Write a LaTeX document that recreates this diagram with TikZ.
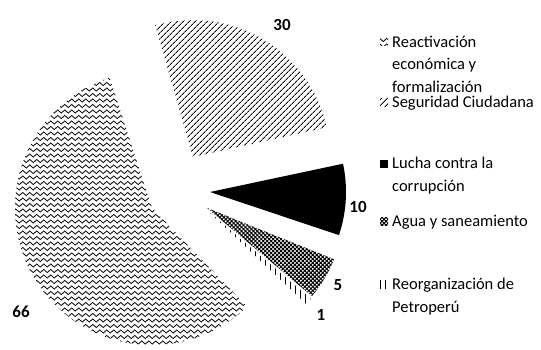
\documentclass[tikz,border=0pt]{standalone}
\usepackage{fontspec}
\setmainfont{Carlito}
\usetikzlibrary{patterns,patterns.meta}

\pgfdeclarepatternformonly{waves}{\pgfpoint{-1pt}{-1pt}}{\pgfpoint{8pt}{6pt}}{\pgfpoint{7pt}{5.5pt}}{%
  \pgfsetlinewidth{0.8pt}%
  \pgfpathmoveto{\pgfpoint{0pt}{2pt}}%
  \pgfpathcurveto{\pgfpoint{1.2pt}{4pt}}{\pgfpoint{2.3pt}{4pt}}{\pgfpoint{3.5pt}{2pt}}%
  \pgfpathcurveto{\pgfpoint{4.7pt}{0pt}}{\pgfpoint{5.8pt}{0pt}}{\pgfpoint{7pt}{2pt}}%
  \pgfusepathqstroke
}

\begin{document}
\begin{tikzpicture}[x=1pt,y=1pt,
    wavy/.style={pattern=waves},
    slash/.style={pattern={Lines[angle=45,distance=4pt,line width=1pt]}},
    cross/.style={pattern={Hatch[angle=45,distance=2.8pt,line width=1pt]}},
    bars/.style={pattern={Lines[angle=90,distance=5pt,line width=1pt]}},
    lbl/.style={font=\fontsize{17}{20}\selectfont\bfseries},
    legtext/.style={anchor=west,align=left,inner sep=0pt,font=\fontsize{16.5}{22.5}\selectfont},
    swatch/.style={minimum size=8pt,inner sep=0pt}]
\useasboundingbox (0,0) rectangle (541,350);
        \fill[wavy] (152,142) -- ++(108:137) arc[start angle=108,end angle=314,radius=137] -- cycle;
        \fill[slash] (193,193) -- ++(12.5:137) arc[start angle=12.5,end angle=106,radius=137] -- cycle;
        \fill[black] (210,158) -- ++(-18.5:136) arc[start angle=-18.5,end angle=12,radius=136] -- cycle;
        \fill[cross] (207,142) -- ++(-40:137) arc[start angle=-40,end angle=-22,radius=137] -- cycle;
        \fill[bars] (207,140) -- ++(-43.5:137) arc[start angle=-43.5,end angle=-40.5,radius=137] -- cycle;
        \node[lbl] (v30) at (282,325) {30};
        \node[lbl] (v10) at (358,143) {10};
        \node[lbl] (v5) at (338,65) {5};
        \node[lbl] (v1) at (321,35) {1};
        \node[lbl] (v66) at (21,38) {66};
        \node[swatch,wavy] (kreact) at (384,308) {};
        \node[legtext] (treact) at (392,286) {Reactivación\\económica y\\formalización};
        \node[swatch,slash] (kseg) at (384,247) {};
        \node[legtext] (tseg) at (392,247) {Seguridad Ciudadana};
        \node[swatch,fill=black] (kluch) at (384,186) {};
        \node[legtext] (tluch) at (392,174.5) {Lucha contra la\\corrupción};
        \node[swatch,cross] (kagua) at (384,128) {};
        \node[legtext] (tagua) at (392,128) {Agua y saneamiento};
        \node[swatch,bars] (kpetro) at (384,65) {};
        \node[legtext] (tpetro) at (392,53.5) {Reorganización de\\Petroperú};
\end{tikzpicture}
\end{document}
